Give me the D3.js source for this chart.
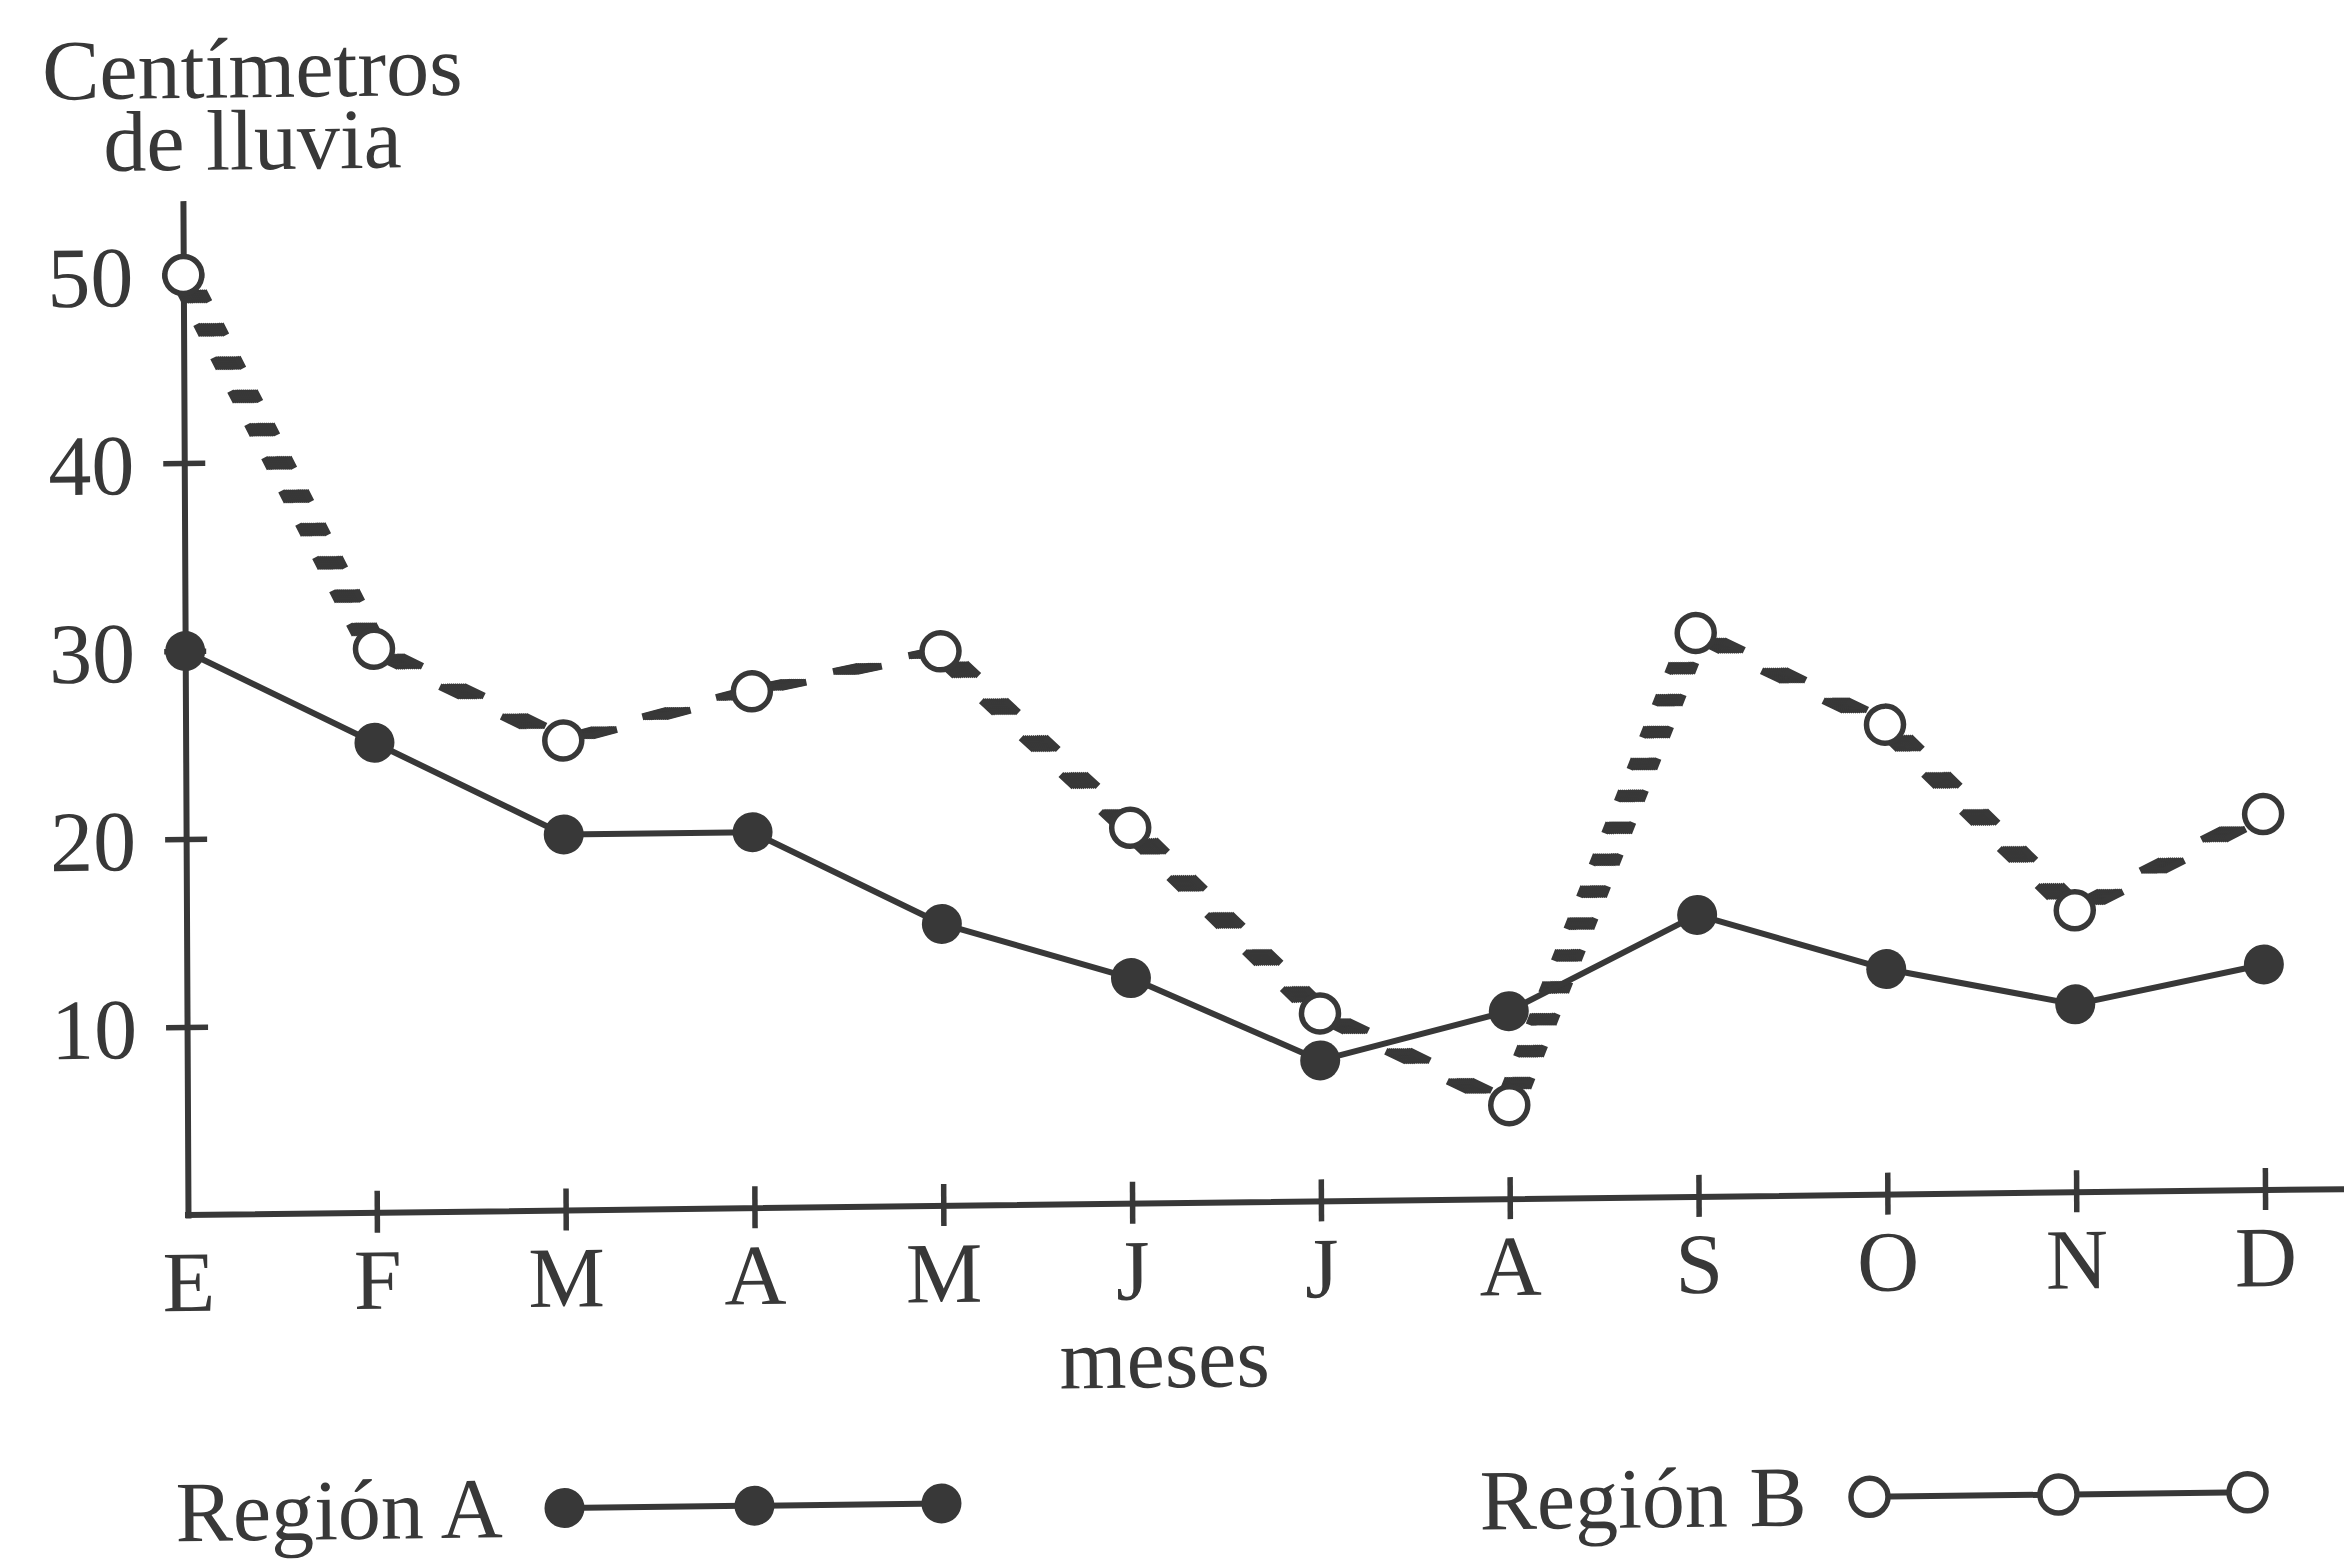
<!DOCTYPE html>
<html>
<head>
<meta charset="utf-8">
<script src="https://cdn.jsdelivr.net/npm/d3@7"></script>
<style>
  html, body { margin: 0; padding: 0; background: #fff; }
  svg { display: block; }
</style>
</head>
<body>
<svg id="chart" width="2344" height="1561"></svg>
<script>
// Monthly rainfall (cm) for two regions
const months = ["E", "F", "M", "A", "M", "J", "J", "A", "S", "O", "N", "D"];
const regionA = [30, 25, 20, 20, 15, 12, 7.5, 10, 15, 12, 10, 12];
const regionB = [50, 30, 25, 27.5, 29.5, 20, 10, 5, 30, 25, 15, 20];
const yTicks = [10, 20, 30, 40, 50];
const yTitle = ["Centímetros", "de lluvia"];
const xTitle = "meses";
const legendNames = ["Región A", "Región B"];

const ink = "#383838";
const font = "'Liberation Serif', 'Times New Roman', serif";
const fontSize = 86;

const svg = d3.select("#chart");
svg.append("rect").attr("width", 2344).attr("height", 1561).attr("fill", "#fff");

// Plot frame: origin at the axis corner, slightly skewed like a printed page
const g = svg.append("g")
  .attr("transform", "matrix(1,-0.012,0.005,1,188,1215)")
  .attr("font-family", font)
  .attr("fill", ink);

const x = d3.scalePoint().domain(d3.range(months.length)).range([0, 2077]);
const y = d3.scaleLinear().domain([0, 53.8]).range([0, -1011.4]);

// Y axis
const yAxis = g.append("g")
  .call(d3.axisLeft(y).tickValues(yTicks).tickSizeInner(0).tickSizeOuter(0)
    .tickPadding(0).tickFormat(d3.format("d")))
  .attr("font-family", font).attr("font-size", fontSize);
yAxis.select(".domain").attr("stroke", ink).attr("stroke-width", 6)
  .attr("stroke-linecap", "square");
yAxis.selectAll(".tick line").attr("x1", -21).attr("x2", 21)
  .attr("stroke", ink).attr("stroke-width", 5.5);
yAxis.selectAll(".tick text").attr("x", -50).attr("dy", "0.35em").attr("fill", ink);

// X axis (baseline runs on to the page edge)
g.append("line")
  .attr("x1", x(0)).attr("x2", 2200).attr("y1", y(0)).attr("y2", y(0))
  .attr("stroke", ink).attr("stroke-width", 6).attr("stroke-linecap", "square");
const xAxis = g.append("g")
  .call(d3.axisBottom(x).tickSizeInner(0).tickSizeOuter(0).tickFormat(i => months[i]))
  .attr("font-family", font).attr("font-size", fontSize);
xAxis.select(".domain").remove();
xAxis.selectAll(".tick line").attr("y1", -22).attr("y2", 20)
  .attr("stroke", ink).attr("stroke-width", 5.5)
  .filter(d => d === 0).remove();
xAxis.selectAll(".tick text").attr("y", 96).attr("dy", null).attr("fill", ink);

// Axis titles
g.append("text").attr("x", 70).attr("y", -1117).attr("text-anchor", "middle")
  .attr("font-size", fontSize).text(yTitle[0]);
g.append("text").attr("x", 70).attr("y", -1045).attr("text-anchor", "middle")
  .attr("font-size", fontSize).text(yTitle[1]);
g.append("text").attr("x", 976).attr("y", 184).attr("text-anchor", "middle")
  .attr("font-size", fontSize).text(xTitle);

// Region B: heavy dashed line, each dash swept by a flat horizontal nib
const ptsB = regionB.map((v, i) => [x(i), y(v)]);
const seg = d3.line();
const nibOffsets = d3.range(-12, 12.01, 2);
const gB = g.append("g").attr("fill", "none").attr("stroke", ink)
  .attr("stroke-width", 7).attr("stroke-linecap", "butt");
for (let i = 0; i < ptsB.length - 1; i++) {
  const p0 = ptsB[i], p1 = ptsB[i + 1];
  const len = Math.hypot(p1[0] - p0[0], p1[1] - p0[1]);
  const c = Math.abs(p1[0] - p0[0]) / len;
  const period = 27 + 52 * c * c;
  const dash = 0.33 * period;
  const sg = gB.append("g");
  nibOffsets.forEach(o => {
    sg.append("path")
      .attr("d", seg([p0, p1]))
      .attr("transform", `translate(${o},0)`)
      .attr("stroke-dasharray", `${dash} ${period - dash}`)
      .attr("stroke-dashoffset", period - 18);
  });
}

// Region A: solid line with filled markers
const lineA = d3.line().x((d, i) => x(i)).y(d => y(d));
g.append("path").attr("d", lineA(regionA)).attr("fill", "none")
  .attr("stroke", ink).attr("stroke-width", 6).attr("stroke-linejoin", "round");
g.append("g").selectAll("circle").data(regionA).join("circle")
  .attr("cx", (d, i) => x(i)).attr("cy", d => y(d)).attr("r", 20)
  .attr("fill", ink);

// Region B markers: open circles
g.append("g").selectAll("circle").data(regionB).join("circle")
  .attr("cx", (d, i) => x(i)).attr("cy", d => y(d)).attr("r", 18.5)
  .attr("fill", "#fff").attr("stroke", ink).attr("stroke-width", 5.5);

// Legend
const legA = [375, 565, 752], legB = [1680, 1869, 2058];
g.append("text").attr("x", -14).attr("y", 326).attr("font-size", fontSize).text(legendNames[0]);
g.append("line").attr("x1", legA[0]).attr("x2", legA[2]).attr("y1", 297.5).attr("y2", 297.5)
  .attr("stroke", ink).attr("stroke-width", 6);
g.append("g").selectAll("circle").data(legA).join("circle")
  .attr("cx", d => d).attr("cy", 297.5).attr("r", 20).attr("fill", ink);

g.append("text").attr("x", 1290).attr("y", 330).attr("font-size", fontSize).text(legendNames[1]);
g.append("line").attr("x1", legB[0]).attr("x2", legB[2]).attr("y1", 302).attr("y2", 302)
  .attr("stroke", ink).attr("stroke-width", 6);
g.append("g").selectAll("circle").data(legB).join("circle")
  .attr("cx", d => d).attr("cy", 302).attr("r", 18.5)
  .attr("fill", "#fff").attr("stroke", ink).attr("stroke-width", 5.5);
</script>
</body>
</html>
